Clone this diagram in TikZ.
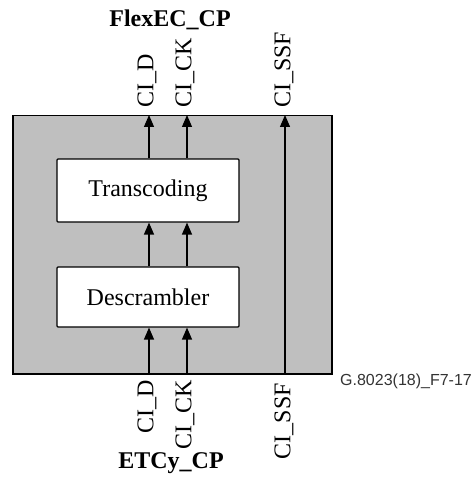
\documentclass[tikz,border=0pt]{standalone}
\usepackage{fontspec}
\setmainfont{Liberation Serif}
\newfontfamily\arialfont{Liberation Sans}
\usetikzlibrary{arrows.meta}
\begin{document}
\begin{tikzpicture}[x=1pt,y=-1pt,
 outer/.style={draw, fill=gray!50, line width=1.5pt, inner sep=0pt},
 blk/.style={draw, fill=white, line width=1.2pt, rounded corners=1pt, inner sep=0pt,
   minimum width=182pt, font=\fontsize{24}{26}\selectfont},
 sig/.style={line width=1.3pt, -{Triangle[length=12pt,width=10pt]}},
 lbl/.style={rotate=90, inner sep=0pt, font=\fontsize{24}{26}\selectfont},
 ttl/.style={inner sep=0pt, font=\fontsize{24}{26}\selectfont\bfseries},
 fig/.style={inner sep=0pt, anchor=west, text=black!80, font=\arialfont\fontsize{16}{18}\selectfont}
]
\useasboundingbox (0,0) rectangle (474,481);
\node[outer, minimum width=319pt, minimum height=258pt, anchor=north west] (fb) at (12,115) {};
\node[blk, minimum height=63pt] (tc) at (148,190.5) {Transcoding};
\node[blk, minimum height=60pt] (ds) at (148,297) {Descrambler};
\coordinate (xD) at (149,0);
\coordinate (xK) at (187,0);
\coordinate (xS) at (285,0);
% top outputs
\draw[sig] (tc.north -| xD) -- (fb.north -| xD);
\draw[sig] (tc.north -| xK) -- (fb.north -| xK);
\draw[sig] (fb.south -| xS) -- (fb.north -| xS);
% middle
\draw[sig] (ds.north -| xD) -- (tc.south -| xD);
\draw[sig] (ds.north -| xK) -- (tc.south -| xK);
% bottom inputs
\draw[sig] (fb.south -| xD) -- (ds.south -| xD);
\draw[sig] (fb.south -| xK) -- (ds.south -| xK);
% labels
\node[lbl, anchor=west] (lDt) at (147,108) {CI\_D};
\node[lbl, anchor=west] (lKt) at (185,108) {CI\_CK};
\node[lbl, anchor=west] (lSt) at (284,108) {CI\_SSF};
\node[lbl, anchor=east] (lDb) at (147,380) {CI\_D};
\node[lbl, anchor=east] (lKb) at (185,380) {CI\_CK};
\node[lbl, anchor=east] (lSb) at (284,383) {CI\_SSF};
\node[ttl] (top) at (170,20) {FlexEC\_CP};
\node[ttl] (bot) at (171,463) {ETCy\_CP};
\node[fig] (fid) at (340,381) {G.8023(18)\_F7-17};
\end{tikzpicture}
\end{document}
